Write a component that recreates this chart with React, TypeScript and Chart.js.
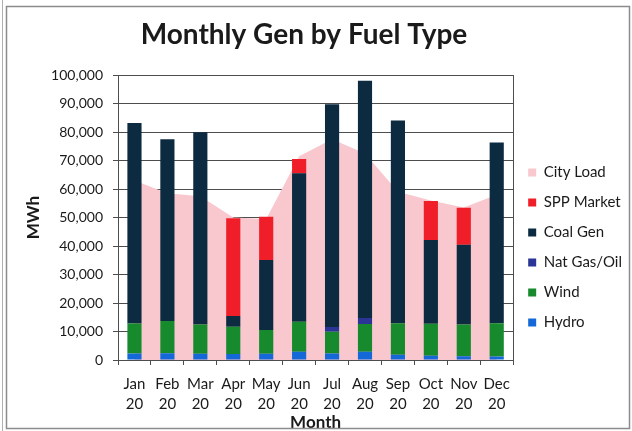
import React, { useEffect, useRef } from "react";
import { Chart, registerables } from "chart.js";

Chart.register(...registerables);

const months = ["Jan", "Feb", "Mar", "Apr", "May", "Jun", "Jul", "Aug", "Sep", "Oct", "Nov", "Dec"];
const yearLabel = "20";

const hydro = [2300, 2400, 2200, 2100, 2200, 2900, 2300, 2900, 1800, 1500, 1300, 1200];
const wind = [10500, 11300, 10300, 9600, 8300, 10500, 7600, 9700, 11100, 11200, 11200, 11700];
const natGasOil = [0, 0, 0, 0, 0, 0, 1700, 2100, 0, 0, 0, 0];
const coalGen = [70400, 63800, 67400, 3700, 24600, 52100, 78100, 83300, 71100, 29400, 27900, 63400];
const sppMarket = [0, 0, 0, 34300, 15200, 5000, 0, 0, 0, 13700, 13000, 0];
const cityLoad = [63000, 58500, 57500, 50000, 49500, 71500, 77500, 72500, 59000, 56000, 53500, 58000];

const yTicks = [0, 10000, 20000, 30000, 40000, 50000, 60000, 70000, 80000, 90000, 100000];

const chartTitle = "Monthly Gen by Fuel Type";
const yTitle = "MWh";
const xTitle = "Month";

const FONT = "Lato, 'Noto Sans', sans-serif";
const TEXT = "#1a1a1a";
const GRID = "#4d4d4d";

const decorPlugin = {
  id: "decor",
  beforeDraw(chart: any) {
    const { ctx, width, height } = chart;
    ctx.save();
    ctx.fillStyle = "#ffffff";
    ctx.fillRect(0, 0, width, height);
    ctx.restore();
  },
  afterDraw(chart: any) {
    const { ctx, chartArea } = chart;
    ctx.save();
    // plot area right border
    ctx.strokeStyle = GRID;
    ctx.lineWidth = 1;
    ctx.beginPath();
    ctx.moveTo(Math.round(chartArea.right) + 0.5, chartArea.top);
    ctx.lineTo(Math.round(chartArea.right) + 0.5, chartArea.bottom);
    ctx.stroke();
    // outer frame
    ctx.strokeStyle = "#8c8c8c";
    ctx.lineWidth = 1.5;
    ctx.strokeRect(6.5, 6.5, 623, 422);
    ctx.strokeStyle = "#b0b0b0";
    ctx.lineWidth = 1;
    ctx.beginPath();
    ctx.moveTo(2.5, 0);
    ctx.lineTo(2.5, 431);
    ctx.stroke();
    // title
    ctx.fillStyle = TEXT;
    ctx.font = `bold 28px ${FONT}`;
    ctx.textAlign = "center";
    ctx.textBaseline = "middle";
    ctx.fillText(chartTitle, 304, 35);
    ctx.restore();
  },
};

export default function App() {
  const canvasRef = useRef<HTMLCanvasElement | null>(null);

  useEffect(() => {
    document.body.style.margin = "0";
    const canvas = canvasRef.current;
    if (!canvas) return;

    const labels = months.map((m) => [m, yearLabel]);

    const barCommon = {
      type: "bar" as const,
      barPercentage: 0.43,
      categoryPercentage: 1,
      borderWidth: 0,
      stack: "gen",
    };

    const chart = new Chart(canvas, {
      type: "bar",
      data: {
        labels,
        datasets: [
          { ...barCommon, label: "Hydro", data: hydro, backgroundColor: "#1468d8" },
          { ...barCommon, label: "Wind", data: wind, backgroundColor: "#168a2c" },
          { ...barCommon, label: "Nat Gas/Oil", data: natGasOil, backgroundColor: "#2b3596" },
          { ...barCommon, label: "Coal Gen", data: coalGen, backgroundColor: "#0c2a40" },
          { ...barCommon, label: "SPP Market", data: sppMarket, backgroundColor: "#f01e28" },
          {
            type: "line",
            label: "City Load",
            data: cityLoad,
            backgroundColor: "#f8c8ce",
            borderColor: "#f8c8ce",
            borderWidth: 0,
            pointRadius: 0,
            fill: "origin",
            tension: 0,
            stack: "load",
          } as any,
        ],
      },
      options: {
        animation: false,
        responsive: false,
        maintainAspectRatio: false,
        layout: { padding: { top: 75, left: 0, right: 0, bottom: 0 } },
        plugins: {
          title: { display: false },
          tooltip: { enabled: false },
          legend: {
            display: true,
            position: "right",
            fullSize: false,
            align: "center",
            title: { display: true, text: " ", font: { size: 10 }, padding: { top: 48, bottom: 0 } },
            labels: {
              boxWidth: 8,
              boxHeight: 8,
              padding: 15,
              color: TEXT,
              font: { family: FONT, size: 15 },
              sort: (a: any, b: any) => b.datasetIndex - a.datasetIndex,
            },
          },
        },
        scales: {
          x: {
            stacked: true,
            offset: true,
            grid: {
              display: true,
              offset: true,
              drawOnChartArea: false,
              drawTicks: true,
              tickLength: 5,
              color: GRID,
            },
            border: { display: true, color: GRID, width: 1 },
            ticks: {
              color: TEXT,
              font: { family: FONT, size: 15, lineHeight: 1.33 },
              padding: 9,
              maxRotation: 0,
              autoSkip: false,
            },
            title: {
              display: true,
              text: xTitle,
              color: TEXT,
              font: { family: FONT, size: 17, weight: "bold", lineHeight: 1 },
              padding: { top: 0, bottom: 0 },
            },
            afterFit: (scale: any) => {
              scale.height = 71;
            },
          },
          y: {
            stacked: true,
            min: 0,
            max: 100000,
            afterBuildTicks: (scale: any) => {
              scale.ticks = yTicks.map((v) => ({ value: v }));
            },
            grid: {
              display: true,
              color: GRID,
              lineWidth: 1,
              drawTicks: true,
              tickLength: 5,
            },
            border: { display: true, color: GRID, width: 1 },
            ticks: {
              color: TEXT,
              font: { family: FONT, size: 14 },
              padding: 10,
              callback: (v: any) => Number(v).toLocaleString("en-US"),
            },
            title: {
              display: true,
              text: yTitle,
              color: TEXT,
              font: { family: FONT, size: 17, weight: "bold" },
              padding: { top: 23, bottom: 0 },
            },
            afterFit: (scale: any) => {
              scale.width = 118;
            },
          },
        },
      },
      plugins: [decorPlugin],
    });

    return () => {
      chart.destroy();
    };
  }, []);

  return (
    <div style={{ width: 632, height: 431 }}>
      <canvas ref={canvasRef} width={632} height={431} style={{ display: "block", width: 632, height: 431 }} />
    </div>
  );
}
